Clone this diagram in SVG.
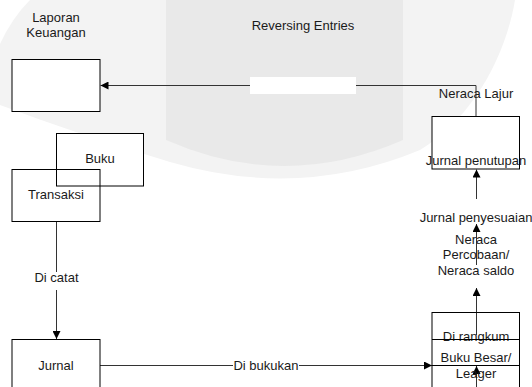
<svg xmlns="http://www.w3.org/2000/svg" width="532" height="387" viewBox="0 0 532 387">
<style>
text{font-family:"Liberation Sans",Arial,sans-serif;font-size:13px;fill:#1a1a1a;text-anchor:middle}
.box{fill:#fff;stroke:#000;stroke-width:1}
.open{fill:none;stroke:#000;stroke-width:1}
.ln{fill:none;stroke:#333;stroke-width:1}
</style>
<defs>
<marker id="ah" markerWidth="8" markerHeight="8" refX="8" refY="4" orient="auto" markerUnits="userSpaceOnUse">
<path d="M0,0 L8,4 L0,8 z" fill="#000"/>
</marker>
</defs>
<rect width="532" height="387" fill="#fff"/>
<path d="M0,0 H515 C505,60 470,120 420,150 Q300,200 170,162 Q80,135 0,105 Z" fill="#f3f3f3"/>
<path d="M0,0 H30 Q12,18 0,44 Z" fill="#fff"/>
<path d="M166,0 V140 Q284,192 403,140 V0 Z" fill="#e9e9e9"/>

<g id="connectors">
<path class="ln" d="M476,116.5 V85.5 H100.5" marker-end="url(#ah)"/>
<rect x="250" y="77" width="106" height="17" fill="#fff"/>
<path class="ln" d="M56.5,221.5 V272"/>
<path class="ln" d="M56.5,290 V339" marker-end="url(#ah)"/>
<path class="ln" d="M100,365.5 H233"/>
<path class="ln" d="M299,365.5 H432" marker-end="url(#ah)"/>
<path class="ln" d="M476.5,335 V288" marker-end="url(#ah)"/>
<path class="ln" d="M476.5,265 V224" marker-end="url(#ah)"/>
<path class="ln" d="M476.5,199 V169.5" marker-end="url(#ah)"/>
<path class="ln" d="M476.5,387 V366" marker-end="url(#ah)"/>
</g>

<g id="title">
<text x="303" y="30">Reversing Entries</text>
</g>

<g id="laporan">
<text x="56" y="22">Laporan</text>
<text x="56" y="37">Keuangan</text>
<rect class="box" x="12" y="59.5" width="88" height="52"/>
</g>

<g id="buku">
<rect class="box" x="56.5" y="133.5" width="87" height="52.5"/>
<text x="100" y="163">Buku</text>
</g>

<g id="transaksi">
<rect class="open" x="12" y="169.5" width="88" height="52"/>
<text x="56" y="199">Transaksi</text>
</g>

<g id="dicatat">
<text x="56.5" y="282">Di catat</text>
</g>

<g id="jurnal">
<rect class="box" x="12" y="339.5" width="88" height="60"/>
<text x="56" y="370">Jurnal</text>
</g>

<g id="dibukukan">
<text x="266" y="370">Di bukukan</text>
</g>

<g id="bukubesar">
<rect class="open" x="432" y="312.5" width="87.5" height="90"/>
<text x="476" y="341">Di rangkum</text>
<text x="476" y="362">Buku Besar/</text>
<text x="476" y="378">Leager</text>
<path class="open" d="M432,339.5 H519.5 M432,365.5 H519.5"/>
</g>

<g id="neracasaldo">
<text x="476" y="244">Neraca</text>
<text x="476" y="259">Percobaan/</text>
<text x="476" y="274.5">Neraca saldo</text>
</g>

<g id="penyesuaian">
<text x="476" y="222">Jurnal penyesuaian</text>
</g>

<g id="penutupan">
<rect class="box" x="432" y="116.5" width="87.5" height="52.5"/>
<text x="476" y="165">Jurnal penutupan</text>
</g>

<g id="neracalajur">
<text x="476" y="98">Neraca Lajur</text>
</g>
</svg>
